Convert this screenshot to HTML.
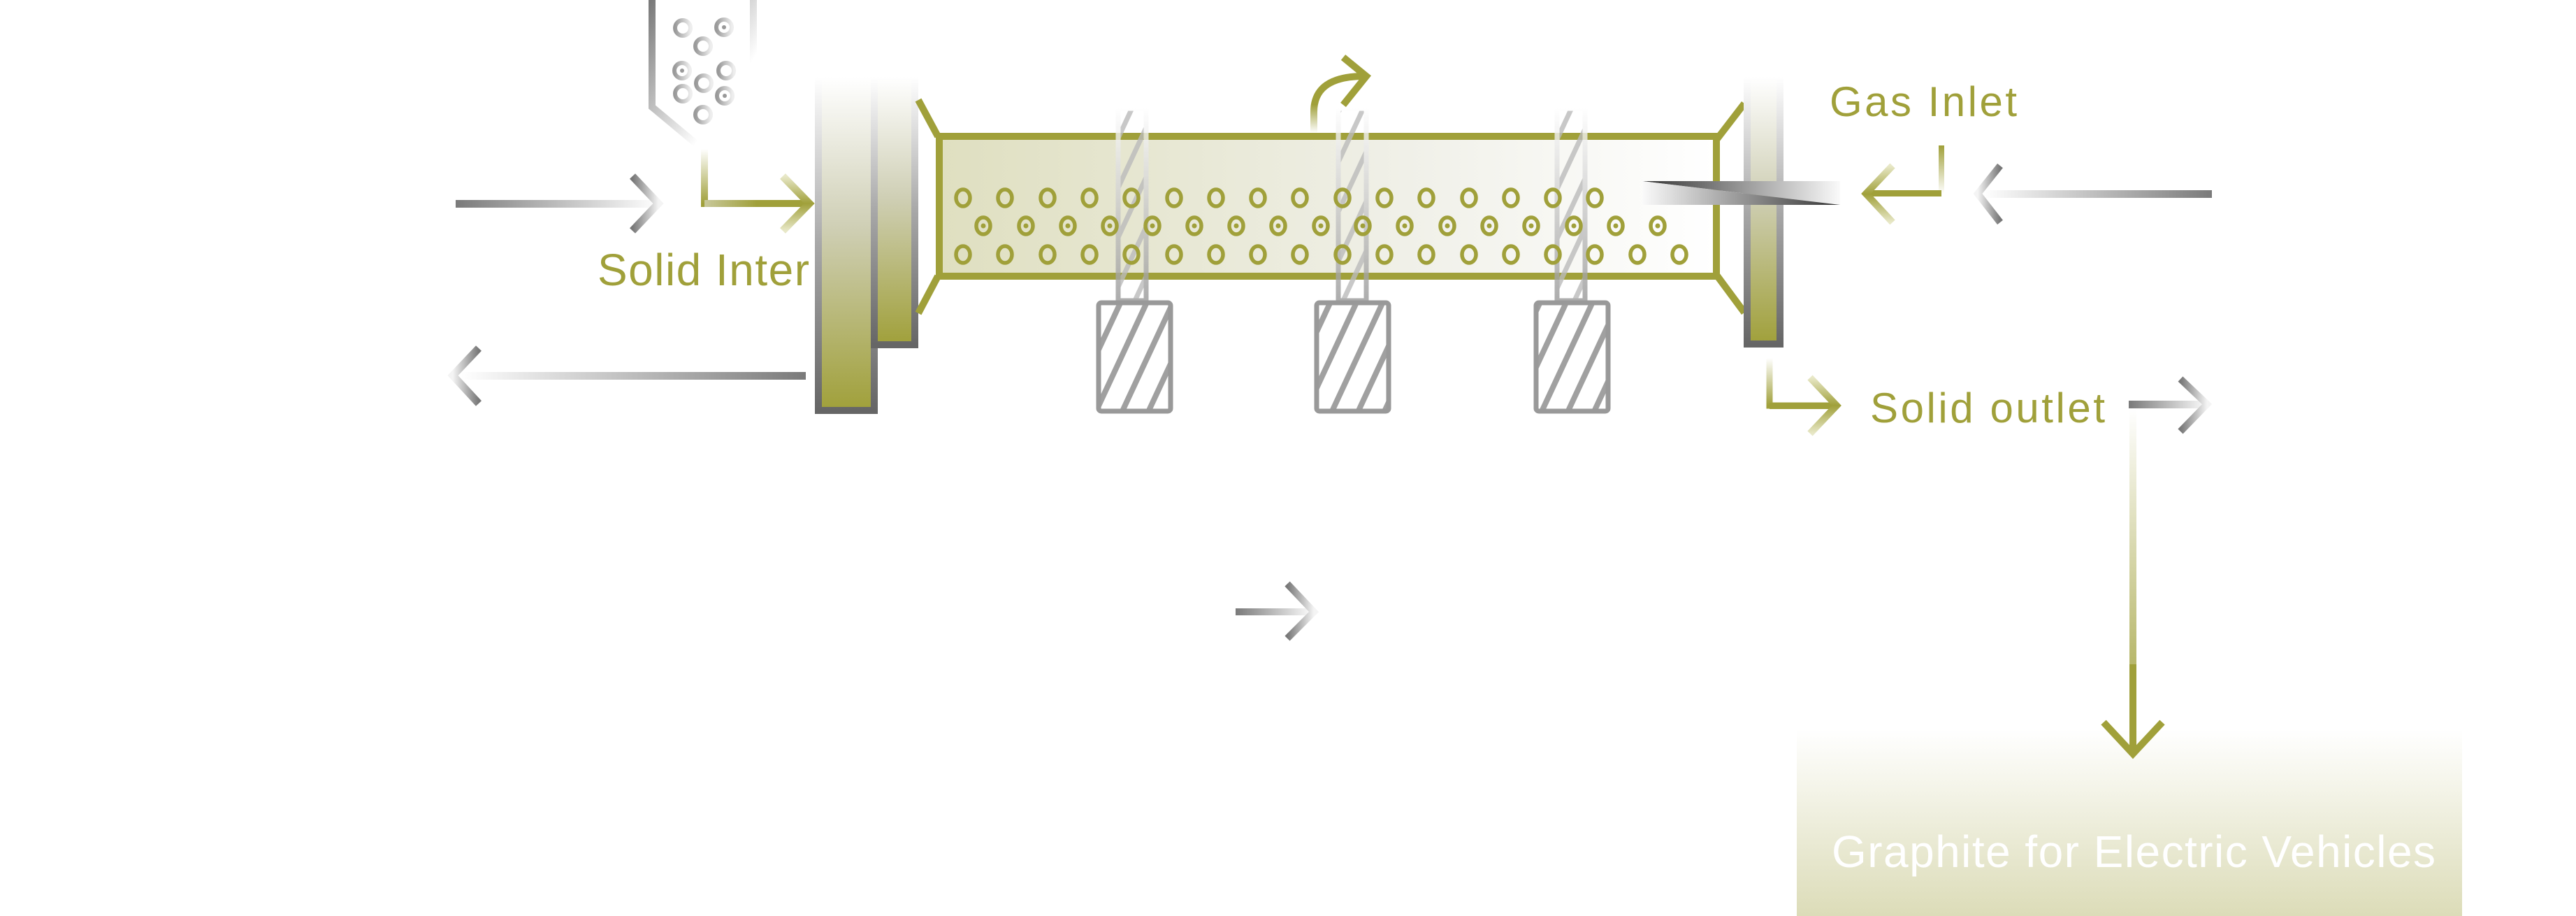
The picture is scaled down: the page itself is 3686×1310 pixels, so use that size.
<!DOCTYPE html>
<html><head><meta charset="utf-8"><style>html,body{margin:0;padding:0;background:#fff}svg{display:block}</style></head>
<body>
<svg width="3686" height="1310" viewBox="0 0 3686 1310" xmlns="http://www.w3.org/2000/svg">
<defs>
<linearGradient id="gR" x1="0" y1="0" x2="1" y2="0"><stop offset="0" stop-color="#7a7a7a"/><stop offset="1" stop-color="#fff"/></linearGradient>
<linearGradient id="gL" x1="0" y1="0" x2="1" y2="0"><stop offset="0" stop-color="#fff"/><stop offset="1" stop-color="#7a7a7a"/></linearGradient>
<linearGradient id="chR" x1="0" y1="0" x2="1" y2="0"><stop offset="0" stop-color="#777"/><stop offset="1" stop-color="#f4f4f4"/></linearGradient>
<linearGradient id="chL" x1="0" y1="0" x2="1" y2="0"><stop offset="0" stop-color="#f4f4f4"/><stop offset="1" stop-color="#777"/></linearGradient>
<linearGradient id="oR" x1="0" y1="0" x2="1" y2="0"><stop offset="0" stop-color="#c8c89a"/><stop offset="0.5" stop-color="#a0a03a"/><stop offset="1" stop-color="#a0a03a"/></linearGradient>
<linearGradient id="oV" x1="0" y1="0" x2="0" y2="1"><stop offset="0" stop-color="#fff"/><stop offset="1" stop-color="#a0a03a"/></linearGradient>
<linearGradient id="oVr" x1="0" y1="1" x2="0" y2="0"><stop offset="0" stop-color="#fff"/><stop offset="1" stop-color="#a0a03a"/></linearGradient>
<linearGradient id="chO" x1="0" y1="0" x2="0" y2="1"><stop offset="0" stop-color="#e8e8c8"/><stop offset="0.5" stop-color="#a0a03a"/><stop offset="1" stop-color="#e8e8c8"/></linearGradient>
<linearGradient id="plate" x1="0" y1="0" x2="0" y2="1"><stop offset="0" stop-color="#fff"/><stop offset="0.45" stop-color="#cfcfb5"/><stop offset="1" stop-color="#a0a03a"/></linearGradient>
<linearGradient id="plateB" x1="0" y1="0" x2="0" y2="1"><stop offset="0" stop-color="#fff"/><stop offset="0.5" stop-color="#a8a8a8"/><stop offset="1" stop-color="#666"/></linearGradient>
<linearGradient id="tube" x1="0" y1="0" x2="1" y2="0"><stop offset="0" stop-color="#dfdfc0"/><stop offset="0.6" stop-color="#f0f0e8"/><stop offset="1" stop-color="#fff"/></linearGradient>
<linearGradient id="hop" x1="0" y1="0" x2="1" y2="1"><stop offset="0" stop-color="#7a7a7a"/><stop offset="0.7" stop-color="#fff"/></linearGradient>
<linearGradient id="ring" x1="0" y1="0" x2="1" y2="0"><stop offset="0" stop-color="#999"/><stop offset="1" stop-color="#eee"/></linearGradient>
<linearGradient id="box" x1="0" y1="0" x2="0" y2="1"><stop offset="0" stop-color="#fff"/><stop offset="1" stop-color="#dcdcb8"/></linearGradient>
<linearGradient id="inj1" x1="0" y1="0" x2="1" y2="0"><stop offset="0" stop-color="#333"/><stop offset="1" stop-color="#fafafa"/></linearGradient>
<linearGradient id="inj2" x1="0" y1="0" x2="1" y2="0"><stop offset="0" stop-color="#fafafa"/><stop offset="1" stop-color="#333"/></linearGradient>
<linearGradient id="rod" x1="0" y1="0" x2="0" y2="1"><stop offset="0" stop-color="#fff"/><stop offset="1" stop-color="#999"/></linearGradient>
<linearGradient id="curve" x1="0" y1="1" x2="0" y2="0"><stop offset="0" stop-color="#fff"/><stop offset="0.5" stop-color="#a0a03a"/></linearGradient>
<pattern id="hatch" width="34" height="34" patternUnits="userSpaceOnUse" patternTransform="rotate(25)"><rect width="34" height="34" fill="#fff"/><rect width="8" height="34" fill="#a0a0a0"/></pattern>
<pattern id="hatchR" width="30" height="30" patternUnits="userSpaceOnUse" patternTransform="rotate(25)"><rect width="7" height="30" fill="#bbb"/></pattern>
</defs>

<!-- hopper -->
<path d="M933 0 V153 L1005 213 L1078 153 V0" fill="#fff" stroke="url(#hop)" stroke-width="10"/>
<g fill="none" stroke="url(#ring)" stroke-width="6">
<circle cx="977" cy="40" r="11"/><circle cx="1036" cy="39" r="11"/><circle cx="1006" cy="66" r="11"/>
<circle cx="976" cy="101" r="11"/><circle cx="1039" cy="101" r="11"/><circle cx="1007" cy="119" r="11"/>
<circle cx="977" cy="134" r="11"/><circle cx="1037" cy="137" r="11"/><circle cx="1006" cy="164" r="11"/>
</g>
<circle cx="1036" cy="39" r="3" fill="#999"/><circle cx="976" cy="101" r="3" fill="#999"/><circle cx="1037" cy="137" r="3" fill="#999"/>

<!-- left arrows -->
<rect x="652" y="286" width="290" height="11" fill="url(#gR)"/>
<polyline points="905,252 942,291 905,330" fill="none" stroke="url(#chR)" stroke-width="11"/>
<path d="M1008 213 V291 H1158" fill="none" stroke="url(#oV)" stroke-width="10"/>
<rect x="1008" y="286" width="150" height="10" fill="url(#oR)"/>
<polyline points="1120,252 1158,291 1120,330" fill="none" stroke="url(#chO)" stroke-width="11"/>
<text x="855" y="408" font-family="Liberation Sans, sans-serif" font-size="64" fill="#a0a03a" textLength="303">Solid Inter</text>
<rect x="660" y="532" width="493" height="11" fill="url(#gL)"/>
<polyline points="685,498 648,537 685,577" fill="none" stroke="url(#chL)" stroke-width="11"/>

<!-- plates -->
<rect x="1171" y="110" width="80" height="477" fill="url(#plate)" stroke="url(#plateB)" stroke-width="10"/>
<rect x="1251" y="110" width="58" height="383" fill="url(#plate)" stroke="url(#plateB)" stroke-width="10"/>

<!-- funnel left -->
<polyline points="1314,143 1342,195" fill="none" stroke="#a0a03a" stroke-width="10"/>
<polyline points="1314,448 1342,395" fill="none" stroke="#a0a03a" stroke-width="10"/>

<!-- tube -->
<rect x="1344" y="195" width="1112" height="200" fill="url(#tube)" stroke="#a0a03a" stroke-width="10"/>

<!-- rods through tube -->
<g>
<rect x="1600" y="155" width="40" height="275" fill="url(#hatchR)" stroke="url(#rod)" stroke-width="7" opacity="0.8"/>
<rect x="1915" y="155" width="40" height="275" fill="url(#hatchR)" stroke="url(#rod)" stroke-width="7" opacity="0.8"/>
<rect x="2228" y="155" width="40" height="275" fill="url(#hatchR)" stroke="url(#rod)" stroke-width="7" opacity="0.8"/>
</g>
<!-- dots -->
<g fill="none" stroke="#a0a03a" stroke-width="5.5">
<g>
<ellipse cx="1378" cy="283" rx="10" ry="12"/><ellipse cx="1438" cy="283" rx="10" ry="12"/><ellipse cx="1499" cy="283" rx="10" ry="12"/><ellipse cx="1559" cy="283" rx="10" ry="12"/><ellipse cx="1619" cy="283" rx="10" ry="12"/><ellipse cx="1680" cy="283" rx="10" ry="12"/><ellipse cx="1740" cy="283" rx="10" ry="12"/><ellipse cx="1800" cy="283" rx="10" ry="12"/><ellipse cx="1860" cy="283" rx="10" ry="12"/><ellipse cx="1921" cy="283" rx="10" ry="12"/><ellipse cx="1981" cy="283" rx="10" ry="12"/><ellipse cx="2041" cy="283" rx="10" ry="12"/><ellipse cx="2102" cy="283" rx="10" ry="12"/><ellipse cx="2162" cy="283" rx="10" ry="12"/><ellipse cx="2222" cy="283" rx="10" ry="12"/><ellipse cx="2282" cy="283" rx="10" ry="12"/>
</g>
<ellipse cx="1378" cy="364" rx="10" ry="12"/><ellipse cx="1438" cy="364" rx="10" ry="12"/><ellipse cx="1499" cy="364" rx="10" ry="12"/><ellipse cx="1559" cy="364" rx="10" ry="12"/><ellipse cx="1619" cy="364" rx="10" ry="12"/><ellipse cx="1680" cy="364" rx="10" ry="12"/><ellipse cx="1740" cy="364" rx="10" ry="12"/><ellipse cx="1800" cy="364" rx="10" ry="12"/><ellipse cx="1860" cy="364" rx="10" ry="12"/><ellipse cx="1921" cy="364" rx="10" ry="12"/><ellipse cx="1981" cy="364" rx="10" ry="12"/><ellipse cx="2041" cy="364" rx="10" ry="12"/><ellipse cx="2102" cy="364" rx="10" ry="12"/><ellipse cx="2162" cy="364" rx="10" ry="12"/><ellipse cx="2222" cy="364" rx="10" ry="12"/><ellipse cx="2282" cy="364" rx="10" ry="12"/><ellipse cx="2343" cy="364" rx="10" ry="12"/><ellipse cx="2403" cy="364" rx="10" ry="12"/>
<ellipse cx="1407" cy="323" rx="10" ry="12"/><ellipse cx="1468" cy="323" rx="10" ry="12"/><ellipse cx="1528" cy="323" rx="10" ry="12"/><ellipse cx="1588" cy="323" rx="10" ry="12"/><ellipse cx="1649" cy="323" rx="10" ry="12"/><ellipse cx="1709" cy="323" rx="10" ry="12"/><ellipse cx="1769" cy="323" rx="10" ry="12"/><ellipse cx="1829" cy="323" rx="10" ry="12"/><ellipse cx="1890" cy="323" rx="10" ry="12"/><ellipse cx="1950" cy="323" rx="10" ry="12"/><ellipse cx="2010" cy="323" rx="10" ry="12"/><ellipse cx="2071" cy="323" rx="10" ry="12"/><ellipse cx="2131" cy="323" rx="10" ry="12"/><ellipse cx="2191" cy="323" rx="10" ry="12"/><ellipse cx="2252" cy="323" rx="10" ry="12"/><ellipse cx="2312" cy="323" rx="10" ry="12"/><ellipse cx="2372" cy="323" rx="10" ry="12"/>
</g>
<g fill="#a0a03a">
<circle cx="1407" cy="323" r="3.5"/><circle cx="1468" cy="323" r="3.5"/><circle cx="1528" cy="323" r="3.5"/><circle cx="1588" cy="323" r="3.5"/><circle cx="1649" cy="323" r="3.5"/><circle cx="1709" cy="323" r="3.5"/><circle cx="1769" cy="323" r="3.5"/><circle cx="1829" cy="323" r="3.5"/><circle cx="1890" cy="323" r="3.5"/><circle cx="1950" cy="323" r="3.5"/><circle cx="2010" cy="323" r="3.5"/><circle cx="2071" cy="323" r="3.5"/><circle cx="2131" cy="323" r="3.5"/><circle cx="2191" cy="323" r="3.5"/><circle cx="2252" cy="323" r="3.5"/><circle cx="2312" cy="323" r="3.5"/><circle cx="2372" cy="323" r="3.5"/>
</g>

<!-- electrode boxes -->
<rect x="1572" y="433" width="103" height="155" rx="4" fill="url(#hatch)" stroke="#999" stroke-width="7"/>
<rect x="1884" y="433" width="103" height="155" rx="4" fill="url(#hatch)" stroke="#999" stroke-width="7"/>
<rect x="2198" y="433" width="103" height="155" rx="4" fill="url(#hatch)" stroke="#999" stroke-width="7"/>

<!-- rising arrow -->
<path d="M1880 190 V160 Q1880 109 1952 109" fill="none" stroke="url(#curve)" stroke-width="10"/>
<polyline points="1922,82 1955,109 1922,150" fill="none" stroke="#a0a03a" stroke-width="10"/>

<!-- funnel right -->
<polyline points="2456,200 2496,148" fill="none" stroke="#a0a03a" stroke-width="10"/>
<polyline points="2456,393 2496,447" fill="none" stroke="#a0a03a" stroke-width="10"/>
<rect x="2500" y="110" width="47" height="382" fill="url(#plate)" stroke="url(#plateB)" stroke-width="10"/>

<!-- injector -->
<polygon points="2350,259 2633,259 2633,293" fill="url(#inj1)"/>
<polygon points="2350,259 2633,293 2350,293" fill="url(#inj2)"/>

<!-- gas inlet -->
<text x="2618" y="166" font-family="Liberation Sans, sans-serif" font-size="60" fill="#a0a03a" textLength="268">Gas Inlet</text>
<path d="M2778 208 V277 H2670" fill="none" stroke="url(#oVr)" stroke-width="8"/>
<rect x="2670" y="272" width="108" height="9" fill="#a0a03a"/>
<polyline points="2708,237 2670,277 2708,318" fill="none" stroke="url(#chO)" stroke-width="10"/>
<rect x="2838" y="272" width="327" height="11" fill="url(#gL)"/>
<polyline points="2862,237 2830,277 2862,318" fill="none" stroke="url(#chL)" stroke-width="10"/>

<!-- solid outlet -->
<path d="M2532 512 V580 H2628" fill="none" stroke="url(#oV)" stroke-width="9"/>
<rect x="2532" y="576" width="96" height="9" fill="#a0a03a"/>
<polyline points="2590,540 2628,580 2590,620" fill="none" stroke="url(#chO)" stroke-width="10"/>
<text x="2676" y="604" font-family="Liberation Sans, sans-serif" font-size="60" fill="#a0a03a" textLength="336">Solid outlet</text>
<rect x="3046" y="573" width="114" height="11" fill="url(#gR)"/>
<polyline points="3120,542 3158,578 3120,617" fill="none" stroke="url(#chR)" stroke-width="10"/>
<rect x="3047" y="585" width="10" height="485" fill="url(#oV)"/>

<!-- output box -->
<rect x="2571" y="1043" width="952" height="267" fill="url(#box)"/>
<rect x="3047" y="950" width="10" height="128" fill="#a0a03a"/>
<polyline points="3010,1033 3052,1078 3094,1033" fill="none" stroke="#a0a03a" stroke-width="10"/>
<text x="2621" y="1240" font-family="Liberation Sans, sans-serif" font-size="64" fill="#fff" textLength="864">Graphite for Electric Vehicles</text>

<!-- small mid arrow -->
<rect x="1768" y="870" width="112" height="10" fill="url(#gR)"/>
<polyline points="1842,835 1880,875 1842,913" fill="none" stroke="url(#chR)" stroke-width="10"/>
</svg>
</body></html>
